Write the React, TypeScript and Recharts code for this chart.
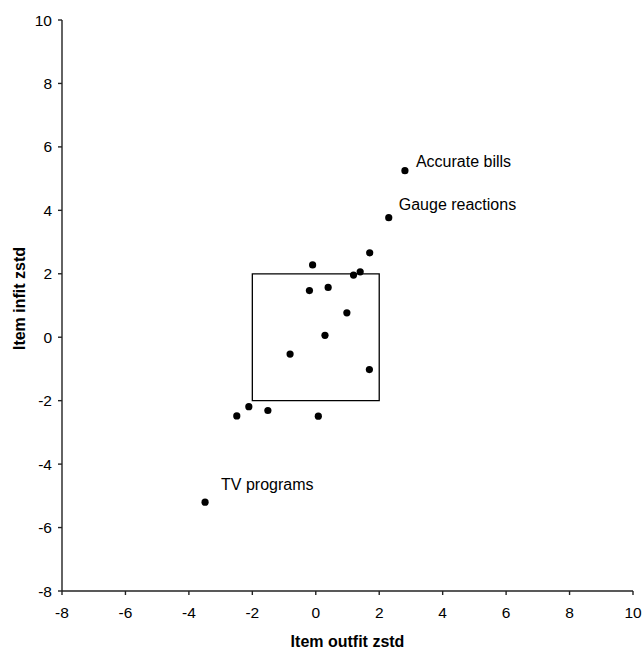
import React from 'react';
import { ScatterChart, Scatter, XAxis, YAxis, ReferenceArea } from 'recharts';

const outfit = [2.81, 2.3, 1.7, -0.1, 1.4, 1.19, 0.39, -0.2, 0.98, 0.29, -0.81, 1.69, -2.11, -1.51, -2.49, 0.08, -3.49];
const infit = [5.25, 3.77, 2.66, 2.28, 2.06, 1.96, 1.57, 1.47, 0.77, 0.06, -0.53, -1.02, -2.19, -2.31, -2.48, -2.49, -5.2];
const itemNames = ['Accurate bills', 'Gauge reactions', '', '', '', '', '', '', '', '', '', '', '', '', '', '', 'TV programs'];
const axisTicks = [-8, -6, -4, -2, 0, 2, 4, 6, 8, 10];

const data = outfit.map((x, i) => ({ x, y: infit[i], name: itemNames[i] }));

const FONT = '"Liberation Sans", Arial, sans-serif';

// where each text label sits relative to its dot
const labelOffsets: Record<string, [number, number]> = {
  'Accurate bills': [11, -4],
  'Gauge reactions': [10, -8],
  'TV programs': [16, -12],
};

const Dot = (props: any) => {
  const { cx, cy, payload } = props;
  const off = labelOffsets[payload.name];
  return (
    <g>
      <circle cx={cx} cy={cy} r={3.6} fill="#000" />
      {payload.name && off && (
        <text x={cx + off[0]} y={cy + off[1]} fontSize={16} fontFamily={FONT} fill="#000">
          {payload.name}
        </text>
      )}
    </g>
  );
};

const XTitle = (props: any) => {
  const { viewBox } = props;
  return (
    <text
      x={viewBox.x + viewBox.width / 2}
      y={viewBox.y + 55.5}
      textAnchor="middle"
      fontSize={16}
      fontWeight="bold"
      fontFamily={FONT}
      fill="#000"
    >
      Item outfit zstd
    </text>
  );
};

const YTitle = (props: any) => {
  const { viewBox } = props;
  const x = 25;
  const y = viewBox.y + viewBox.height / 2 - 7;
  return (
    <text
      x={x}
      y={y}
      transform={`rotate(-90, ${x}, ${y})`}
      textAnchor="middle"
      fontSize={16}
      fontWeight="bold"
      fontFamily={FONT}
      fill="#000"
    >
      Item infit zstd
    </text>
  );
};

export default function App() {
  const tickStyle = { fontSize: 15.5, fill: '#000', fontFamily: FONT };
  return (
    <div style={{ position: 'absolute', left: 0, top: 0, width: 644, height: 648, background: '#fff' }}>
      <ScatterChart width={644} height={648} margin={{ top: 20, right: 11, bottom: 0, left: 0 }}>
        <XAxis
          type="number"
          dataKey="x"
          domain={[-8, 10]}
          ticks={axisTicks}
          interval={0}
          height={57}
          tickSize={4}
          tickMargin={12}
          tick={tickStyle}
          stroke="#222"
          strokeWidth={1.4}
          label={<XTitle />}
        />
        <YAxis
          type="number"
          dataKey="y"
          domain={[-8, 10]}
          ticks={axisTicks}
          interval={0}
          width={62}
          tickSize={4}
          tickMargin={6}
          tick={tickStyle}
          stroke="#222"
          strokeWidth={1.4}
          label={<YTitle />}
        />
        <ReferenceArea x1={-2} x2={2} y1={-2} y2={2} fill="none" fillOpacity={0} stroke="#000" strokeWidth={1.3} />
        <Scatter data={data} fill="#000" shape={<Dot />} isAnimationActive={false} />
      </ScatterChart>
    </div>
  );
}
